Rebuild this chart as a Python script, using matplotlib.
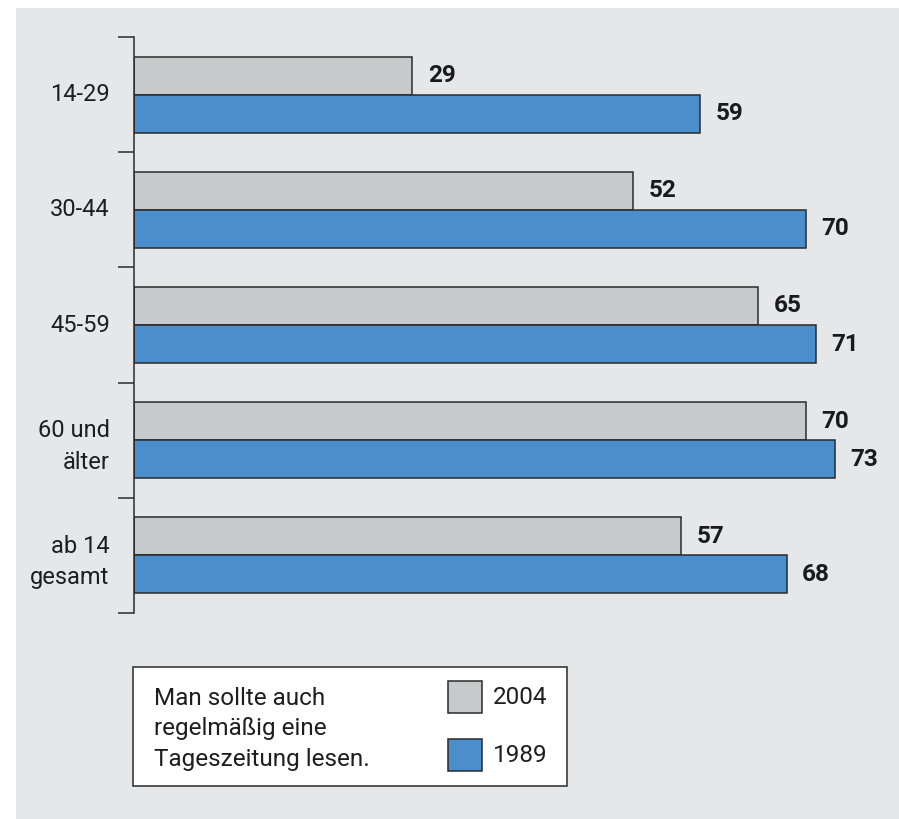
import matplotlib
matplotlib.use("Agg")
import matplotlib.pyplot as plt
from matplotlib.patches import Rectangle

categories = ["14-29", "30-44", "45-59", "60 und\nälter", "ab 14\ngesamt"]
values_2004 = [29, 52, 65, 70, 57]
values_1989 = [59, 70, 71, 73, 68]
series_labels = ["2004", "1989"]
legend_note = "Man sollte auch\nregelmäßig eine\nTageszeitung lesen."

GRAY = "#c8c9cb"
BLUE = "#4a8ecc"
BG = "#e6e7e9"
EDGE = "#2a2a2a"
TXT = "#1e1e1e"

W, H = 899, 819


def fx(px):
    return px / W


def fy(py):
    return 1 - py / H


plt.rcParams["font.family"] = ["Roboto", "DejaVu Sans"]

fig = plt.figure(figsize=(W / 100, H / 100), dpi=100, facecolor="white")

# grey panel, white strip on top and left
fig.patches.append(Rectangle((fx(16), 0), 1 - fx(16), fy(8), transform=fig.transFigure,
                             facecolor=BG, edgecolor="none", zorder=-5))

ax = fig.add_axes([fx(134), fy(613), 1 - fx(134), (613 - 37) / H])
ax.set_facecolor("none")

n = len(categories)
pos = list(range(n))
bh = 0.33
ax.barh([p - bh / 2 for p in pos], values_2004, height=bh, color=GRAY,
        edgecolor=EDGE, linewidth=1.1, zorder=2)
ax.barh([p + bh / 2 for p in pos], values_1989, height=bh, color=BLUE,
        edgecolor=EDGE, linewidth=1.1, zorder=2)

for p, a, b in zip(pos, values_2004, values_1989):
    ax.annotate(str(a), (a, p - bh / 2), xytext=(11, 0), textcoords="offset points",
                va="center", ha="left", fontsize=17.5, fontweight="bold", color="#1a1a1a")
    ax.annotate(str(b), (b, p + bh / 2), xytext=(11, 0), textcoords="offset points",
                va="center", ha="left", fontsize=17.5, fontweight="bold", color="#1a1a1a")

for p, c in zip(pos, categories):
    dy = -4.5 if "\n" in c else 0  # two-line labels sit a bit lower
    ax.annotate(c, (0, p), xytext=(-17.5, dy), textcoords="offset points",
                ha="right", va="center", fontsize=17, color=TXT,
                linespacing=1.45, annotation_clip=False)

ax.set_xlim(0, (W - 134) / 9.6)
ax.set_ylim(n - 0.5, -0.5)
ax.set_yticks([i - 0.5 for i in range(n + 1)])
ax.set_yticklabels([])
ax.set_xticks([])
ax.tick_params(axis="y", direction="out", length=11.5, width=1.1, color=EDGE)
for s in ["top", "right", "bottom"]:
    ax.spines[s].set_visible(False)
ax.spines["left"].set_color(EDGE)
ax.spines["left"].set_linewidth(1.1)

# legend box
fig.patches.append(Rectangle((fx(133), fy(786)), fx(567) - fx(133), fy(667) - fy(786),
                             transform=fig.transFigure, facecolor="white",
                             edgecolor=EDGE, linewidth=1.1, zorder=3))
fig.text(fx(154), fy(729), legend_note, ha="left", va="center", fontsize=17.5,
         color=TXT, linespacing=1.42, zorder=4)
for (ytop, ybot), col, lab in zip([(681, 713), (739, 771)], [GRAY, BLUE], series_labels):
    fig.patches.append(Rectangle((fx(448), fy(ybot)), fx(482) - fx(448), fy(ytop) - fy(ybot),
                                 transform=fig.transFigure, facecolor=col,
                                 edgecolor=EDGE, linewidth=1.1, zorder=4))
    fig.text(fx(493), fy((ytop + ybot) / 2 + 1), lab, ha="left", va="center", fontsize=17.5,
             color=TXT, zorder=5)

fig.savefig("out.png", dpi=100, facecolor="white")
